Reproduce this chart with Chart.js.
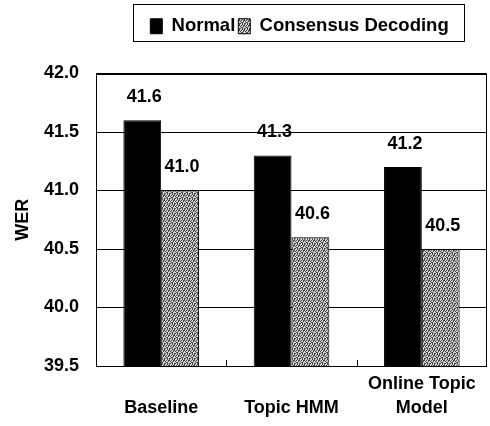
<!DOCTYPE html>
<html><head><meta charset="utf-8">
<script src="https://cdn.jsdelivr.net/npm/chart.js@4/dist/chart.umd.min.js"></script>
<style>html,body{margin:0;padding:0;background:#fff}</style>
</head><body>
<canvas id="c" width="490" height="426"></canvas>
<script>
// ---- data ----
const categories = [['', 'Baseline'], ['', 'Topic HMM'], ['Online Topic', 'Model']];
const seriesNames = ['Normal', 'Consensus Decoding'];
const normalWER = [41.6, 41.3, 41.2];
const consensusWER = [41.0, 40.6, 40.5];
const yTickMin = 39.5, yTickMax = 42.0, yTickStep = 0.5;
const yTitle = 'WER';

const FONT = "'Liberation Sans', Arial, sans-serif";

function makePattern() {
  const rows = [
    '.#.##',
    '#..#.',
    '.##..',
    '#.#.#',
    '..#.#'
  ];
  const p = document.createElement('canvas');
  p.width = 5; p.height = 5;
  const g = p.getContext('2d');
  g.fillStyle = '#d4d4d4'; g.fillRect(0, 0, 5, 5);
  g.fillStyle = '#474747';
  rows.forEach((r, y) => [...r].forEach((ch, x) => { if (ch === '#') g.fillRect(x, y, 1, 1); }));
  return g.createPattern(p, 'repeat');
}
const ctx = document.getElementById('c').getContext('2d');
const grayPattern = makePattern();

const frame = {
  id: 'frame',
  afterLayout(chart) {
    const lg = chart.legend;
    const dx = 8;
    lg.left += dx; lg.right += dx;
    (lg.legendHitBoxes || []).forEach(b => { b.left += dx; });
  },
  afterDatasetsDraw(chart) {
    const {ctx, chartArea: a, scales: {x}} = chart;
    ctx.save();
    ctx.strokeStyle = '#000'; ctx.lineWidth = 1;
    ctx.strokeRect(Math.round(a.left) + 0.5, Math.round(a.top) + 0.5, Math.round(a.right - a.left) - 1, Math.round(a.bottom - a.top) - 1);
    // inner category separator ticks
    for (let i = 0; i < categories.length - 1; i++) {
      const px = Math.round((x.getPixelForValue(i) + x.getPixelForValue(i + 1)) / 2) + 0.5;
      ctx.beginPath(); ctx.moveTo(px, a.bottom); ctx.lineTo(px, a.bottom - 6); ctx.stroke();
    }
    // value labels
    ctx.fillStyle = '#000';
    ctx.font = 'bold 18px ' + FONT;
    ctx.textAlign = 'center'; ctx.textBaseline = 'middle';
    chart.data.datasets.forEach((ds, di) => {
      chart.getDatasetMeta(di).data.forEach((el, i) => {
        ctx.fillText(ds.data[i].toFixed(1), el.x + 2, el.y - 23);
      });
    });
    ctx.restore();
  },
  afterDraw(chart) {
    const boxes = chart.legend.legendHitBoxes;
    if (!boxes || !boxes.length) return;
    const l = boxes[0], r = boxes[boxes.length - 1];
    const x0 = Math.round(l.left - 17) + 0.5;
    const x1 = Math.round(r.left + r.width + 15) + 0.5;
    const cy = l.top + l.height / 2;
    const y0 = Math.round(cy - 22) + 0.5, y1 = Math.round(cy + 15) + 0.5;
    const c = chart.ctx;
    c.save(); c.strokeStyle = '#000'; c.lineWidth = 1;
    c.strokeRect(x0, y0, x1 - x0, y1 - y0);
    c.restore();
  }
};

new Chart(ctx, {
  type: 'bar',
  data: {
    labels: categories,
    datasets: [
      { label: seriesNames[0], data: normalWER, backgroundColor: '#000', borderColor: '#000', borderWidth: 1 },
      { label: seriesNames[1], data: consensusWER, backgroundColor: grayPattern, borderColor: '#000', borderWidth: 1 }
    ]
  },
  options: {
    responsive: false,
    devicePixelRatio: 1,
    animation: false,
    layout: { padding: { top: 14, right: 3, left: 0, bottom: 0 } },
    datasets: { bar: { categoryPercentage: 0.58, barPercentage: 1.0 } },
    plugins: {
      tooltip: { enabled: false },
      title: {
        display: true, text: ' ', weight: 500, position: 'top',
        font: { size: 7, lineHeight: 1 }, padding: { top: 0, bottom: 21 }
      },
      legend: {
        position: 'top',
        fullSize: false,
        labels: {
          color: '#000',
          font: { family: FONT, size: 18.5, weight: 'bold' },
          boxWidth: 12, boxHeight: 15, padding: 3
        }
      }
    },
    scales: {
      x: {
        grid: { display: false },
        border: { display: false },
        ticks: { color: '#000', font: { family: FONT, size: 18, weight: 'bold', lineHeight: 1.35 }, padding: -2, maxRotation: 0, autoSkip: false },
        afterFit(s) { s.height = 60; }
      },
      y: {
        min: yTickMin, max: yTickMax,
        grid: { color: '#000', lineWidth: 1, drawTicks: false },
        border: { display: false },
        ticks: { stepSize: yTickStep, color: '#000', padding: 17,
          font: { family: FONT, size: 18, weight: 'bold' },
          callback: v => v.toFixed(1) },
        title: { display: true, text: yTitle, color: '#000', font: { family: FONT, size: 18, weight: 'bold' }, padding: { top: 12, bottom: 0 } },
        afterFit(s) { s.width = 96; }
      }
    }
  },
  plugins: [frame]
});
</script>
</body></html>
